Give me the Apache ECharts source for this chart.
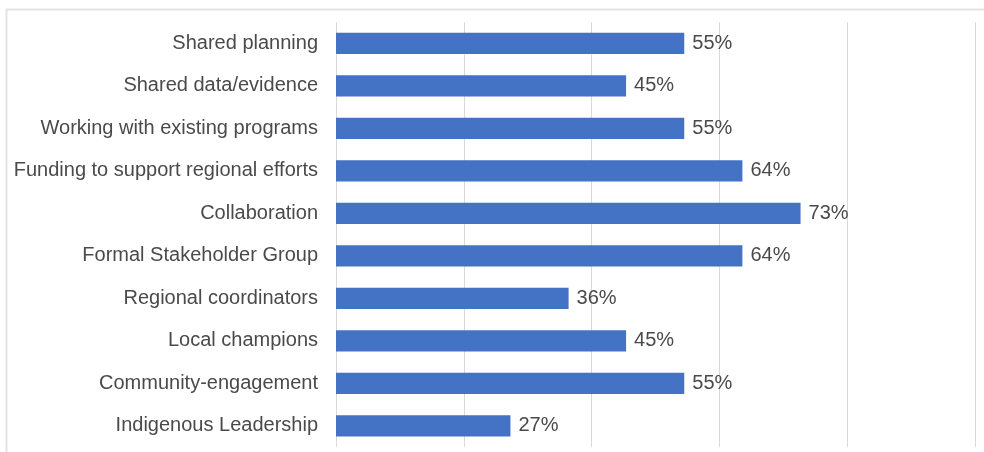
<!DOCTYPE html>
<html><head><meta charset="utf-8">
<script src="https://cdn.jsdelivr.net/npm/echarts@6/dist/echarts.min.js"></script>
<style>html,body{margin:0;padding:0;background:#fff}#c{width:984px;height:452px}</style>
</head><body><div id="c"></div>
<script>
const categories = ["Shared planning","Shared data/evidence","Working with existing programs","Funding to support regional efforts","Collaboration","Formal Stakeholder Group","Regional coordinators","Local champions","Community-engagement","Indigenous Leadership"];
const values = [54.5,45.4,54.5,63.6,72.7,63.6,36.4,45.4,54.5,27.3];
const xMin = 0, xMax = 100, xInterval = 20;

const chart = echarts.init(document.getElementById('c'), null, {renderer:'canvas'});
chart.setOption({
  animation:false,
  backgroundColor:'#fff',
  textStyle:{fontFamily:'Liberation Sans, Arial, sans-serif'},
  graphic:[{type:'rect',left:4,top:7,shape:{x:0,y:0,width:1000,height:500},style:{fill:'none',stroke:'#e3e3e3',lineWidth:2},silent:true,z:-1}],
  grid:{left:336,right:9,top:22,bottom:5,containLabel:false},
  xAxis:{type:'value',min:xMin,max:xMax,interval:xInterval,
    axisLabel:{show:false},axisLine:{show:false},axisTick:{show:false},
    splitLine:{show:true,lineStyle:{color:'#d9d9d9',width:1}}},
  yAxis:{type:'category',data:categories,inverse:true,
    axisLine:{show:false},axisTick:{show:false},
    axisLabel:{color:'#4a4a4a',fontSize:20,margin:18,fontFamily:'Liberation Sans, Arial, sans-serif'}},
  series:[{type:'bar',data:values,barWidth:'50%',
    itemStyle:{color:'#4472C4'},
    label:{show:true,position:'right',distance:8,formatter:p=>Math.round(p.value)+'%',color:'#4a4a4a',fontSize:20,fontFamily:'Liberation Sans, Arial, sans-serif'}}]
});
</script></body></html>
